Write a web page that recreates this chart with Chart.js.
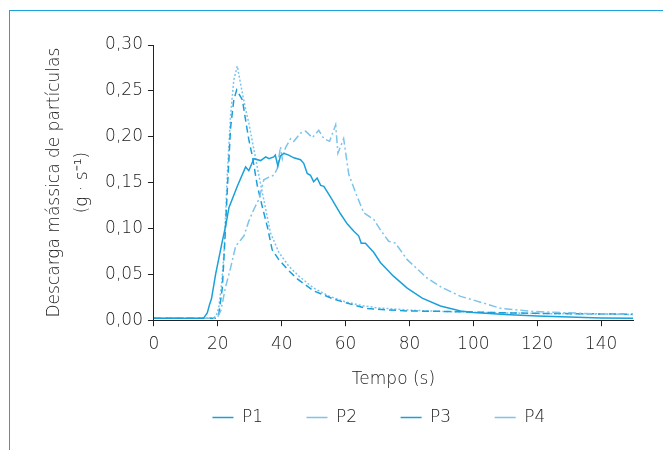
<!DOCTYPE html>
<html>
<head>
<meta charset="utf-8">
<script src="https://cdn.jsdelivr.net/npm/chart.js@4/dist/chart.umd.min.js"></script>
<style>
  html, body { margin: 0; padding: 0; background: #fff; }
  #wrap { position: relative; width: 663px; height: 450px; }
  #frame { position: absolute; left: 9px; top: 10px; right: 0; bottom: 0;
           border-top: 1.5px solid #1ea2dc; border-left: 1.5px solid #1ea2dc; }
  #descarga { position: absolute; left: 0; top: 0; }
</style>
</head>
<body>
<div id="wrap">
  <div id="frame"></div>
  <canvas id="descarga" width="663" height="450"></canvas>
</div>
<script>
// tempo (s) e descarga (g/s)
const p1Tempo = [0, 5, 10, 14, 15.5, 16.7, 17.4, 18, 19.3, 21.4, 22.4, 23.5, 26.1, 28.7, 29.7, 31.3, 33.4, 35, 36, 37.5, 38, 38.8, 39.6, 40.7, 42.2, 43.8, 45.9, 46.9, 48, 49, 50, 51.1, 52.2, 53.2, 55.5, 58.4, 60.5, 62.6, 64.1, 64.9, 66.2, 68.8, 70.9, 75, 79.3, 84, 89.7, 96, 100, 110, 120, 130, 140, 150];
const p1Descarga = [0.002, 0.002, 0.002, 0.002, 0.002, 0.008, 0.017, 0.023, 0.05, 0.086, 0.102, 0.123, 0.146, 0.167, 0.163, 0.176, 0.174, 0.178, 0.176, 0.178, 0.180, 0.168, 0.179, 0.182, 0.180, 0.177, 0.175, 0.171, 0.160, 0.158, 0.151, 0.155, 0.147, 0.146, 0.133, 0.116, 0.105, 0.097, 0.092, 0.084, 0.084, 0.074, 0.063, 0.048, 0.035, 0.024, 0.0155, 0.010, 0.0084, 0.0062, 0.0047, 0.0035, 0.0025, 0.002];

const p2Tempo = [0, 10, 19, 20, 20.9, 21.5, 22.4, 24, 25.6, 26.6, 28.2, 29.7, 31.3, 32.9, 34.4, 36, 37.5, 38.6, 39.6, 40.2, 41.2, 42.8, 43.8, 45.9, 47.5, 49.6, 51.6, 53.2, 55, 56.9, 57.6, 59.4, 61, 63.6, 65.7, 68.8, 71, 73.5, 75.6, 79.3, 85.5, 90, 96, 100, 108.5, 119, 130, 140, 150];
const p2Descarga = [0.002, 0.002, 0.002, 0.004, 0.010, 0.020, 0.036, 0.057, 0.081, 0.085, 0.092, 0.108, 0.121, 0.132, 0.153, 0.156, 0.158, 0.165, 0.189, 0.176, 0.188, 0.198, 0.195, 0.204, 0.206, 0.199, 0.207, 0.198, 0.195, 0.213, 0.182, 0.198, 0.159, 0.135, 0.117, 0.110, 0.098, 0.086, 0.084, 0.066, 0.046, 0.036, 0.026, 0.022, 0.013, 0.0095, 0.008, 0.0068, 0.0062];

const p3Tempo = [0, 10, 19.5, 20.3, 21.4, 22.2, 23, 24, 25, 25.9, 27.7, 28.7, 29.7, 30.8, 32.4, 33.9, 35.5, 37, 39.1, 42.2, 44.9, 50, 56.3, 60, 66.8, 79.3, 87.6, 100, 110, 120, 135, 150];
const p3Descarga = [0.002, 0.002, 0.002, 0.0065, 0.035, 0.086, 0.144, 0.210, 0.240, 0.251, 0.240, 0.218, 0.197, 0.179, 0.146, 0.124, 0.102, 0.077, 0.066, 0.054, 0.045, 0.032, 0.023, 0.019, 0.0127, 0.010, 0.0098, 0.0088, 0.008, 0.0075, 0.007, 0.0065];

const p4Tempo = [0, 10, 18.5, 19.5, 20.3, 21.2, 21.9, 23, 24, 25, 26.1, 27.7, 28.7, 29.7, 31.3, 32.9, 35, 36.5, 39.1, 42.2, 45.4, 50, 55, 60, 65, 70, 80, 90, 100, 110, 120, 135, 150];
const p4Descarga = [0.002, 0.002, 0.002, 0.005, 0.014, 0.040, 0.072, 0.162, 0.224, 0.262, 0.277, 0.247, 0.230, 0.215, 0.186, 0.157, 0.121, 0.095, 0.074, 0.059, 0.048, 0.035, 0.026, 0.020, 0.016, 0.0135, 0.011, 0.0095, 0.0088, 0.008, 0.0073, 0.0068, 0.0063];

const seriesNames = ['P1', 'P2', 'P3', 'P4'];
const xTicks = [0, 20, 40, 60, 80, 100, 120, 140];
const yTicks = [0, 0.05, 0.10, 0.15, 0.20, 0.25, 0.30];

const azul = '#1ba0da';
const azulClaro = '#7dc4ea';
const texto = '#1a1a1a';

function pontos(tempo, valores) {
    return tempo.map((t, i) => ({ x: t, y: valores[i] }));
}

// empurra a legenda um pouco para a direita, como no original
const legendOffset = {
    id: 'legendOffset',
    afterLayout(chart) {
        chart.legend.left += 15;
        chart.legend.right += 15;
    }
};

Chart.defaults.font.family = "'DejaVu Sans', sans-serif";
Chart.defaults.font.weight = 300;
Chart.defaults.font.size = 17;
Chart.defaults.color = texto;

const ctxDescarga = document.getElementById('descarga');

const dataDescarga = {
    datasets: [{
        label: seriesNames[0],
        data: pontos(p1Tempo, p1Descarga),
        borderColor: azul,
        borderWidth: 1.5,
    }, {
        label: seriesNames[1],
        data: pontos(p2Tempo, p2Descarga),
        borderColor: azulClaro,
        borderWidth: 1.5,
        borderDash: [8, 3, 2, 3],
    }, {
        label: seriesNames[2],
        data: pontos(p3Tempo, p3Descarga),
        borderColor: azul,
        borderWidth: 1.5,
        borderDash: [7, 4],
    }, {
        label: seriesNames[3],
        data: pontos(p4Tempo, p4Descarga),
        borderColor: azulClaro,
        borderWidth: 1.5,
        borderDash: [2, 2],
    }]
};

const configDescarga = {
    type: 'line',
    data: dataDescarga,
    plugins: [legendOffset],
    options: {
        responsive: false,
        animation: false,
        elements: {
            point: { radius: 0 },
            line: { tension: 0, fill: false }
        },
        layout: {
            padding: { top: 45, right: 30, bottom: 14, left: 0 }
        },
        plugins: {
            legend: {
                position: 'bottom',
                fullSize: false,
                align: 'start',
                labels: {
                    usePointStyle: true,
                    pointStyle: 'line',
                    pointStyleWidth: 21,
                    padding: 43.5,
                    color: texto
                }
            },
            tooltip: { enabled: false }
        },
        scales: {
            x: {
                type: 'linear',
                min: 0,
                max: 150,
                afterBuildTicks: (s) => {
                    s.ticks = xTicks.map(v => ({ value: v }));
                },
                ticks: {
                    padding: 8,
                },
                grid: {
                    drawOnChartArea: false,
                    tickLength: 6,
                    color: '#222'
                },
                border: { color: '#222' },
                title: {
                    display: true,
                    text: 'Tempo (s)',
                    padding: { top: 7, bottom: -24.5 }
                }
            },
            y: {
                min: 0,
                max: 0.3,
                afterBuildTicks: (s) => {
                    s.ticks = yTicks.map(v => ({ value: v }));
                },
                ticks: {
                    padding: 5,
                    callback: (v) => v.toFixed(2).replace('.', ',')
                },
                grid: {
                    drawOnChartArea: false,
                    tickLength: 6,
                    color: '#222'
                },
                border: { color: '#222' },
                title: {
                    display: true,
                    text: ['Descarga mássica de partículas', '(g · s⁻¹)'],
                    font: { lineHeight: 1.65 },
                    padding: { top: 41, bottom: 3 }
                }
            }
        }
    }
};

const lineChartDescarga = new Chart(ctxDescarga, configDescarga);
</script>
</body>
</html>
